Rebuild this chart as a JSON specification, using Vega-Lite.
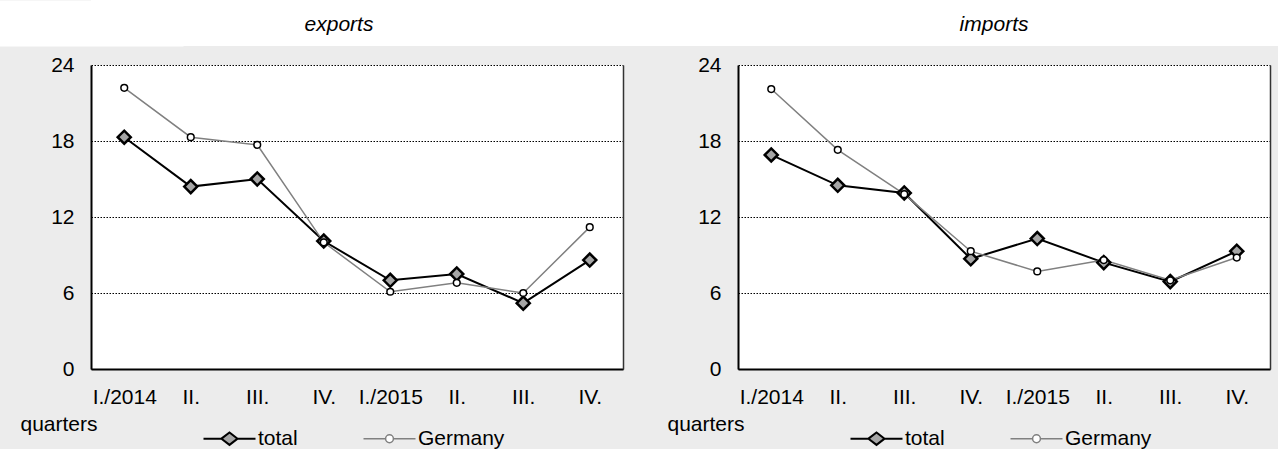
{
  "$schema": "https://vega.github.io/schema/vega-lite/v6.json",
  "background": "#ececec",
  "padding": {"left": 20, "top": 0, "right": 0, "bottom": 0},
  "autosize": {"type": "pad"},
  "config": {
    "font": "Liberation Sans",
    "view": {"fill": "white", "stroke": null},
    "axis": {"labelColor": "#000", "titleColor": "#000", "labelFontSize": 21, "titleFontSize": 21, "titleFontWeight": "normal"}
  },
  "datasets": {
    "titles": [{"panel": "exports"}, {"panel": "imports"}],
    "d": [
      {"panel": "exports", "series": "total", "quarter": "1|I./2014", "value": 18.3},
      {"panel": "exports", "series": "total", "quarter": "2|II.", "value": 14.4},
      {"panel": "exports", "series": "total", "quarter": "3|III.", "value": 15.0},
      {"panel": "exports", "series": "total", "quarter": "4|IV.", "value": 10.1},
      {"panel": "exports", "series": "total", "quarter": "5|I./2015", "value": 7.0},
      {"panel": "exports", "series": "total", "quarter": "6|II.", "value": 7.5},
      {"panel": "exports", "series": "total", "quarter": "7|III.", "value": 5.2},
      {"panel": "exports", "series": "total", "quarter": "8|IV.", "value": 8.6},
      {"panel": "imports", "series": "total", "quarter": "1|I./2014", "value": 16.9},
      {"panel": "imports", "series": "total", "quarter": "2|II.", "value": 14.5},
      {"panel": "imports", "series": "total", "quarter": "3|III.", "value": 13.9},
      {"panel": "imports", "series": "total", "quarter": "4|IV.", "value": 8.7},
      {"panel": "imports", "series": "total", "quarter": "5|I./2015", "value": 10.3},
      {"panel": "imports", "series": "total", "quarter": "6|II.", "value": 8.4},
      {"panel": "imports", "series": "total", "quarter": "7|III.", "value": 6.9},
      {"panel": "imports", "series": "total", "quarter": "8|IV.", "value": 9.3},
      {"panel": "exports", "series": "Germany", "quarter": "1|I./2014", "value": 22.2},
      {"panel": "exports", "series": "Germany", "quarter": "2|II.", "value": 18.3},
      {"panel": "exports", "series": "Germany", "quarter": "3|III.", "value": 17.7},
      {"panel": "exports", "series": "Germany", "quarter": "4|IV.", "value": 10.0},
      {"panel": "exports", "series": "Germany", "quarter": "5|I./2015", "value": 6.1},
      {"panel": "exports", "series": "Germany", "quarter": "6|II.", "value": 6.8},
      {"panel": "exports", "series": "Germany", "quarter": "7|III.", "value": 6.0},
      {"panel": "exports", "series": "Germany", "quarter": "8|IV.", "value": 11.2},
      {"panel": "imports", "series": "Germany", "quarter": "1|I./2014", "value": 22.1},
      {"panel": "imports", "series": "Germany", "quarter": "2|II.", "value": 17.3},
      {"panel": "imports", "series": "Germany", "quarter": "3|III.", "value": 13.8},
      {"panel": "imports", "series": "Germany", "quarter": "4|IV.", "value": 9.3},
      {"panel": "imports", "series": "Germany", "quarter": "5|I./2015", "value": 7.7},
      {"panel": "imports", "series": "Germany", "quarter": "6|II.", "value": 8.6},
      {"panel": "imports", "series": "Germany", "quarter": "7|III.", "value": 7.0},
      {"panel": "imports", "series": "Germany", "quarter": "8|IV.", "value": 8.8}
    ]
  },
  "spacing": 8,
  "columns": 1,
  "align": "none",
  "concat": [
    {
      "data": {"name": "titles"},
      "width": 1187,
      "height": 46,
      "mark": {"type": "text", "fontSize": 21, "fontStyle": "italic", "color": "#000", "dx": -18, "dy": 2},
      "encoding": {
        "x": {"field": "panel", "type": "nominal", "scale": {"type": "point", "padding": 0.406}, "axis": null},
        "y": {"datum": 0, "type": "quantitative", "scale": {"domain": [-1, 1]},
          "axis": {"orient": "left", "title": null, "labels": false, "ticks": false, "grid": false, "domainColor": "#ffffff", "domainWidth": 184, "domainCap": "butt"}},
        "text": {"field": "panel"}
      }
    },
    {
      "spacing": 44,
      "resolve": {"scale": {"color": "independent"}, "legend": {"color": "independent"}},
      "hconcat": [
        {
          "data": {"name": "d"},
          "transform": [{"filter": "datum.panel === 'exports'"}],
          "width": 532,
          "height": 304,
          "resolve": {"axis": {"y": "independent"}},
          "encoding": {
            "x": {"field": "quarter", "type": "ordinal", "sort": "ascending",
              "axis": {"title": "quarters", "titleX": -71, "titleY": 61, "titleAlign": "left", "titleBaseline": "alphabetic", "labelExpr": "split(datum.value, '|')[1]", "labelAngle": 0, "labelOverlap": false, "ticks": false, "tickSize": 0, "labelPadding": 17, "domainColor": "#000", "domainWidth": 2, "grid": false}},
            "y": {"field": "value", "type": "quantitative", "scale": {"domain": [0, 24]}}
          },
          "layer": [
            {
              "mark": {"type": "line"},
              "encoding": {
                "y": {"field": "value", "type": "quantitative", "scale": {"domain": [0, 24]},
                  "axis": {"orient": "left", "title": null, "values": [0, 6, 12, 18, 24], "ticks": false, "tickSize": 0, "labelPadding": 17, "domainColor": "#000", "domainWidth": 2, "grid": true, "gridColor": "#000", "gridDash": [1.5, 1.5], "gridWidth": 1.2}},
                "color": {"field": "series", "type": "nominal", "scale": {"domain": ["total", "Germany"], "range": ["#000000", "#808080"]},
                  "legend": {"orient": "none", "legendX": 128, "legendY": 363, "direction": "horizontal", "title": null, "labelFontSize": 21, "labelColor": "#000", "symbolSize": 2704, "labelOffset": 18, "columnPadding": 62, "padding": 0,
                    "encode": {"symbols": {"update": {
                      "shape": {"signal": "datum.value === 'total' ? 'M-1,0L-0.31,0L0,-0.24L0.31,0L0,0.24L-0.31,0ZM0.31,0L1,0' : 'M-1,0L-0.15,0A0.15,0.15 0 1 1 0.15,0A0.15,0.15 0 1 1 -0.15,0ZM0.15,0L1,0'"},
                      "size": {"value": 2704},
                      "fill": {"signal": "datum.value === 'total' ? '#a6a6a6' : '#ffffff'"},
                      "strokeWidth": {"signal": "datum.value === 'total' ? 2 : 1.5"}
                    }}}}},
                "strokeWidth": {"field": "series", "type": "nominal", "scale": {"domain": ["total", "Germany"], "range": [2, 1.5]}, "legend": null}
              }
            },
            {
              "transform": [{"filter": "datum.series === 'total'"}],
              "mark": {"type": "point", "shape": "diamond", "filled": true, "opacity": 1, "fill": "#a6a6a6", "stroke": "#000", "strokeWidth": 2.5, "size": 170},
              "encoding": {
                "y": {"field": "value", "type": "quantitative", "scale": {"domain": [0, 24]},
                  "axis": {"orient": "right", "title": null, "labels": false, "ticks": false, "grid": false, "domainColor": "#333", "domainWidth": 1.5}}
              }
            },
            {
              "transform": [{"filter": "datum.series === 'Germany'"}],
              "mark": {"type": "point", "shape": "circle", "filled": true, "opacity": 1, "fill": "#ffffff", "stroke": "#000", "strokeWidth": 1.5, "size": 45},
              "encoding": {
                "y": {"field": "value", "type": "quantitative", "scale": {"domain": [0, 24]}, "axis": null}
              }
            }
          ]
        },
        {
          "data": {"name": "d"},
          "transform": [{"filter": "datum.panel === 'imports'"}],
          "width": 532,
          "height": 304,
          "resolve": {"axis": {"y": "independent"}},
          "encoding": {
            "x": {"field": "quarter", "type": "ordinal", "sort": "ascending",
              "axis": {"title": "quarters", "titleX": -71, "titleY": 61, "titleAlign": "left", "titleBaseline": "alphabetic", "labelExpr": "split(datum.value, '|')[1]", "labelAngle": 0, "labelOverlap": false, "ticks": false, "tickSize": 0, "labelPadding": 17, "domainColor": "#000", "domainWidth": 2, "grid": false}},
            "y": {"field": "value", "type": "quantitative", "scale": {"domain": [0, 24]}}
          },
          "layer": [
            {
              "mark": {"type": "line"},
              "encoding": {
                "y": {"field": "value", "type": "quantitative", "scale": {"domain": [0, 24]},
                  "axis": {"orient": "left", "title": null, "values": [0, 6, 12, 18, 24], "ticks": false, "tickSize": 0, "labelPadding": 17, "domainColor": "#000", "domainWidth": 2, "grid": true, "gridColor": "#000", "gridDash": [1.5, 1.5], "gridWidth": 1.2}},
                "color": {"field": "series", "type": "nominal", "scale": {"domain": ["total", "Germany"], "range": ["#000000", "#808080"]},
                  "legend": {"orient": "none", "legendX": 128, "legendY": 363, "direction": "horizontal", "title": null, "labelFontSize": 21, "labelColor": "#000", "symbolSize": 2704, "labelOffset": 18, "columnPadding": 62, "padding": 0,
                    "encode": {"symbols": {"update": {
                      "shape": {"signal": "datum.value === 'total' ? 'M-1,0L-0.31,0L0,-0.24L0.31,0L0,0.24L-0.31,0ZM0.31,0L1,0' : 'M-1,0L-0.15,0A0.15,0.15 0 1 1 0.15,0A0.15,0.15 0 1 1 -0.15,0ZM0.15,0L1,0'"},
                      "size": {"value": 2704},
                      "fill": {"signal": "datum.value === 'total' ? '#a6a6a6' : '#ffffff'"},
                      "strokeWidth": {"signal": "datum.value === 'total' ? 2 : 1.5"}
                    }}}}},
                "strokeWidth": {"field": "series", "type": "nominal", "scale": {"domain": ["total", "Germany"], "range": [2, 1.5]}, "legend": null}
              }
            },
            {
              "transform": [{"filter": "datum.series === 'total'"}],
              "mark": {"type": "point", "shape": "diamond", "filled": true, "opacity": 1, "fill": "#a6a6a6", "stroke": "#000", "strokeWidth": 2.5, "size": 170},
              "encoding": {
                "y": {"field": "value", "type": "quantitative", "scale": {"domain": [0, 24]},
                  "axis": {"orient": "right", "title": null, "labels": false, "ticks": false, "grid": false, "domainColor": "#333", "domainWidth": 1.5}}
              }
            },
            {
              "transform": [{"filter": "datum.series === 'Germany'"}],
              "mark": {"type": "point", "shape": "circle", "filled": true, "opacity": 1, "fill": "#ffffff", "stroke": "#000", "strokeWidth": 1.5, "size": 45},
              "encoding": {
                "y": {"field": "value", "type": "quantitative", "scale": {"domain": [0, 24]}, "axis": null}
              }
            }
          ]
        }
      ]
    }
  ]
}
